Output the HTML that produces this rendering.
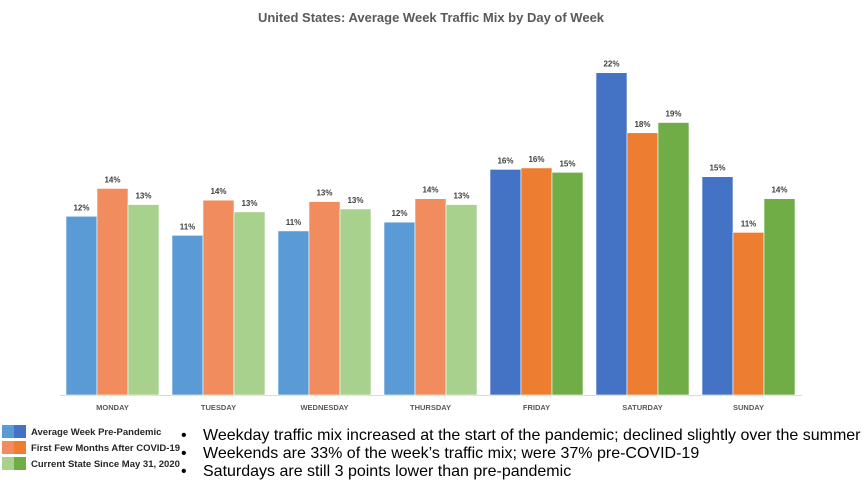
<!DOCTYPE html>
<html><head><meta charset="utf-8"><style>
body{margin:0;background:#fff;font-family:"Liberation Sans",sans-serif;}
svg text{font-family:"Liberation Sans",sans-serif;}
</style></head><body>
<svg id="c" width="862" height="492" viewBox="0 0 862 492">
<text x="431" y="22" text-anchor="middle" font-size="13" font-weight="bold" fill="#595959">United States: Average Week Traffic Mix by Day of Week</text>
<line x1="60" y1="395.5" x2="802" y2="395.5" stroke="#d9d9d9" stroke-width="1"/>
<g id="bars"></g>
<g>
<rect x="2" y="425" width="12" height="13" fill="#5B9BD5"/>
<rect x="14" y="425" width="12" height="13" fill="#4472C4"/>
<rect x="2" y="441" width="12" height="13" fill="#F08C5E"/>
<rect x="14" y="441" width="12" height="13" fill="#ED7D31"/>
<rect x="2" y="457" width="12" height="13" fill="#A9D18E"/>
<rect x="14" y="457" width="12" height="13" fill="#70AD47"/>
<text x="31" y="435" font-size="9.5" font-weight="bold" fill="#262626">Average Week Pre-Pandemic</text>
<text x="31" y="451" font-size="9.5" font-weight="bold" fill="#262626">First Few Months After COVID-19</text>
<text x="31" y="467" font-size="9.5" font-weight="bold" fill="#262626">Current State Since May 31, 2020</text>
</g>
<g font-size="16" fill="#000">
<text x="181" y="440">•</text>
<text x="203" y="440">Weekday traffic mix increased at the start of the pandemic; declined slightly over the summer</text>
<text x="181" y="458">•</text>
<text x="203" y="458">Weekends are 33% of the week’s traffic mix; were 37% pre-COVID-19</text>
<text x="181" y="476">•</text>
<text x="203" y="476">Saturdays are still 3 points lower than pre-pandemic</text>
</g>
</svg>
<script>
const categories=["MONDAY","TUESDAY","WEDNESDAY","THURSDAY","FRIDAY","SATURDAY","SUNDAY"];
const prePandemic=[12.2,10.9,11.2,11.8,15.4,22.0,14.9];
const firstMonths=[14.1,13.3,13.2,13.4,15.5,17.9,11.1];
const currentState=[13.0,12.5,12.7,13.0,15.2,18.6,13.4];
const preLabels=["12%","11%","11%","12%","16%","22%","15%"];
const firstLabels=["14%","14%","13%","14%","16%","18%","11%"];
const currentLabels=["13%","13%","13%","13%","15%","19%","14%"];
const ns="http://www.w3.org/2000/svg";
const base=395, pxPer=14.65, x0=66, pitch=106, bw=31;
const y=v=>base-v*pxPer;
const weekdayCols=["#5B9BD5","#F08C5E","#A9D18E"], weekendCols=["#4472C4","#ED7D31","#70AD47"];
const series=[prePandemic,firstMonths,currentState], labels=[preLabels,firstLabels,currentLabels];
const names=["prepandemic","first-months","current"];
const g=document.getElementById("bars");
categories.forEach((cat,i)=>{
  const gx=x0+i*pitch;
  const cols=i>=4?weekendCols:weekdayCols;
  series.forEach((s,j)=>{
    const r=document.createElementNS(ns,"rect");
    
    
    r.setAttribute("x",gx+j*bw);r.setAttribute("y",y(s[i]));
    r.setAttribute("width",bw);r.setAttribute("height",base-y(s[i]));
    r.setAttribute("fill",cols[j]);r.setAttribute("stroke","#fff");r.setAttribute("stroke-width","0.6");
    g.appendChild(r);
    const t=document.createElementNS(ns,"text");
    
    
    t.setAttribute("x",gx+j*bw+bw/2);t.setAttribute("y",y(s[i])-6);
    t.setAttribute("text-anchor","middle");t.setAttribute("font-size","8");t.setAttribute("font-weight","bold");t.setAttribute("fill","#404040");
    t.textContent=labels[j][i];g.appendChild(t);
  });
  const c=document.createElementNS(ns,"text");
  
  
  c.setAttribute("x",gx+bw*1.5);c.setAttribute("y",410);c.setAttribute("text-anchor","middle");
  c.setAttribute("font-size","7.5");c.setAttribute("font-weight","bold");c.setAttribute("fill","#595959");
  c.textContent=cat;g.appendChild(c);
});
</script>
</body></html>
